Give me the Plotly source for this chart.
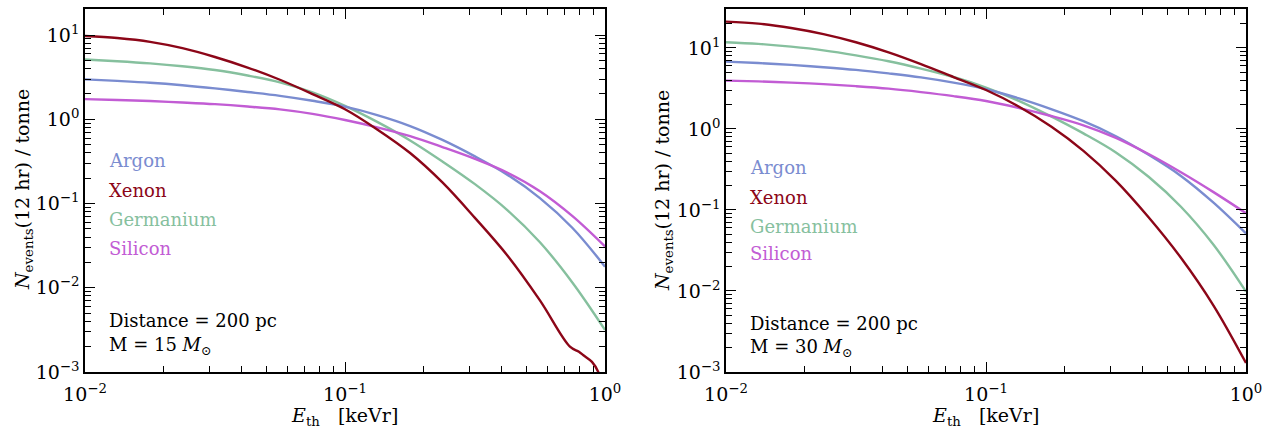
import plotly.graph_objects as go

# ---------------- data ----------------
E_grid = [0.01, 0.0133, 0.0178, 0.0237, 0.0316, 0.0422, 0.0562, 0.075, 0.1,
          0.133, 0.178, 0.237, 0.316, 0.422, 0.562, 0.75, 1.0]

# Left panel: M = 15 Msun
argon_left = [2.98, 2.86, 2.72, 2.54, 2.33, 2.11, 1.90, 1.66, 1.413,
              1.122, 0.832, 0.569, 0.363, 0.219, 0.116, 0.0513, 0.0178]
germanium_left = [5.13, 4.90, 4.62, 4.27, 3.85, 3.31, 2.75, 2.09, 1.445,
                  0.933, 0.562, 0.316, 0.170, 0.0832, 0.0347, 0.0115, 0.00316]
silicon_left = [1.738, 1.698, 1.648, 1.585, 1.514, 1.419, 1.312, 1.161, 0.982,
                0.804, 0.631, 0.468, 0.339, 0.232, 0.140, 0.0708, 0.0309]
E_xenon_left = [0.01, 0.0133, 0.0178, 0.0237, 0.0316, 0.0422, 0.0562, 0.075, 0.1,
                0.133, 0.178, 0.237, 0.316, 0.422, 0.562, 0.733, 0.794, 0.826, 0.891, 0.942, 1.0]
xenon_left = [9.77, 9.23, 8.32, 7.0, 5.50, 4.12, 2.95, 1.995, 1.318,
              0.759, 0.398, 0.178, 0.0676, 0.0240, 0.00708, 0.00200, 0.00174, 0.00158,
              0.00132, 0.00100, 0.00050]

# Right panel: M = 30 Msun
argon_right = [6.76, 6.50, 6.17, 5.78, 5.35, 4.84, 4.32, 3.72, 3.09,
               2.40, 1.758, 1.245, 0.813, 0.479, 0.263, 0.123, 0.0513]
xenon_right = [21.1, 19.95, 17.6, 14.8, 11.75, 8.81, 6.31, 4.37, 3.02,
               1.905, 1.072, 0.537, 0.229, 0.0813, 0.0257, 0.00661, 0.00129]
germanium_right = [11.75, 11.2, 10.35, 9.33, 8.09, 6.84, 5.56, 4.37, 3.24,
                   2.24, 1.429, 0.881, 0.513, 0.257, 0.1096, 0.0372, 0.00982]
silicon_right = [3.95, 3.86, 3.73, 3.57, 3.37, 3.14, 2.85, 2.54, 2.21,
                 1.82, 1.445, 1.109, 0.776, 0.490, 0.292, 0.166, 0.0912]

materials = ["Argon", "Xenon", "Germanium", "Silicon"]
panel_labels = [["Distance = 200 pc", "M = 15 <i>M</i><sub>⊙</sub>"],
                ["Distance = 200 pc", "M = 30 <i>M</i><sub>⊙</sub>"]]
x_ticks = [0.01, 0.1, 1]
x_ticktext = ["10<sup>−2</sup>", "10<sup>−1</sup>", "10<sup>0</sup>"]
y_ticks = [1e-3, 1e-2, 1e-1, 1, 10]
y_ticktext = ["10<sup>−3</sup>", "10<sup>−2</sup>", "10<sup>−1</sup>", "10<sup>0</sup>", "10<sup>1</sup>"]

# ---------------- style ----------------
W, H = 1283, 432
FONT = "DejaVu Serif"
COLORS = {
    "Argon": "rgb(122,140,208)",
    "Xenon": "rgb(140,6,24)",
    "Germanium": "rgb(134,192,158)",
    "Silicon": "rgb(194,92,212)",
}

def px(x):
    return x / W

def py(y):
    return 1 - y / H

fig = go.Figure()

panels = [
    ("x", "y", {"Argon": (E_grid, argon_left), "Xenon": (E_xenon_left, xenon_left),
                "Germanium": (E_grid, germanium_left), "Silicon": (E_grid, silicon_left)}),
    ("x2", "y2", {"Argon": (E_grid, argon_right), "Xenon": (E_grid, xenon_right),
                  "Germanium": (E_grid, germanium_right), "Silicon": (E_grid, silicon_right)}),
]
order = ["Germanium", "Argon", "Silicon", "Xenon"]
for xa, ya, series in panels:
    for name in order:
        xs, ys = series[name]
        fig.add_trace(go.Scatter(x=xs, y=ys, mode="lines", name=name, xaxis=xa, yaxis=ya,
                                 line=dict(color=COLORS[name], width=2.4, shape="spline", smoothing=1.0),
                                 showlegend=False, cliponaxis=True))

def xaxis(domain, anchor):
    return dict(type="log", domain=domain, anchor=anchor, range=[-2, 0], automargin=False,
                showline=True, linecolor="black", linewidth=1.5, mirror="ticks",
                ticks="inside", ticklen=10, tickwidth=1.3, tickcolor="black",
                tickvals=x_ticks, ticktext=x_ticktext, ticklabelstandoff=4,
                tickfont=dict(family=FONT, size=19, color="black"),
                showgrid=False, zeroline=False,
                minor=dict(ticks="inside", ticklen=6, tickwidth=1.1, tickcolor="black",
                           dtick="D1", showgrid=False))

def yaxis(domain, anchor, rng):
    return dict(type="log", domain=domain, anchor=anchor, range=rng, automargin=False,
                showline=True, linecolor="black", linewidth=1.5, mirror="ticks",
                ticks="inside", ticklen=10, tickwidth=1.3, tickcolor="black",
                tickvals=y_ticks, ticktext=y_ticktext,
                tickfont=dict(family=FONT, size=19, color="black"),
                showgrid=False, zeroline=False,
                minor=dict(ticks="inside", ticklen=6, tickwidth=1.1, tickcolor="black",
                           dtick="D1", showgrid=False))

ydom = [py(372), py(9)]
fig.update_layout(
    width=W, height=H,
    margin=dict(l=0, r=0, t=0, b=0, pad=0, autoexpand=False),
    paper_bgcolor="white", plot_bgcolor="white",
    xaxis=xaxis([px(85), px(605)], "y"),
    yaxis=yaxis(ydom, "x", [-3, 1.31]),
    xaxis2=xaxis([px(726), px(1246)], "y2"),
    yaxis2=yaxis(ydom, "x2", [-3, 1.48]),
    font=dict(family=FONT, size=19, color="black"),
)

annotations = []
label_rows = [[160, 190, 219, 248], [168, 197, 226, 254]]
text_rows = [[320, 346], [323, 348]]
label_x = [107, 748]
ytitle_x = [23, 663]
xtitle_x = [345, 985]
for i in range(2):
    for name, yy in zip(materials, label_rows[i]):
        annotations.append(dict(text=name, x=px(label_x[i]), y=py(yy), xref="paper", yref="paper",
                                xanchor="left", yanchor="middle", showarrow=False,
                                font=dict(family=FONT, size=18, color=COLORS[name])))
    for txt, yy in zip(panel_labels[i], text_rows[i]):
        annotations.append(dict(text=txt, x=px(label_x[i]), y=py(yy), xref="paper", yref="paper",
                                xanchor="left", yanchor="middle", showarrow=False,
                                font=dict(family=FONT, size=18, color="black")))
    annotations.append(dict(text="<i>N</i><sub>events</sub>(12 hr) / tonne", x=px(ytitle_x[i]), y=py(190),
                            xref="paper", yref="paper", xanchor="center", yanchor="middle",
                            textangle=-90, showarrow=False, font=dict(family=FONT, size=19, color="black")))
    annotations.append(dict(text="<i>E</i><sub>th</sub>\u00a0\u00a0\u00a0[keVr]", x=px(xtitle_x[i]), y=py(416),
                            xref="paper", yref="paper", xanchor="center", yanchor="middle",
                            showarrow=False, font=dict(family=FONT, size=19, color="black")))
fig.update_layout(annotations=annotations)

fig.write_html("out.html")
